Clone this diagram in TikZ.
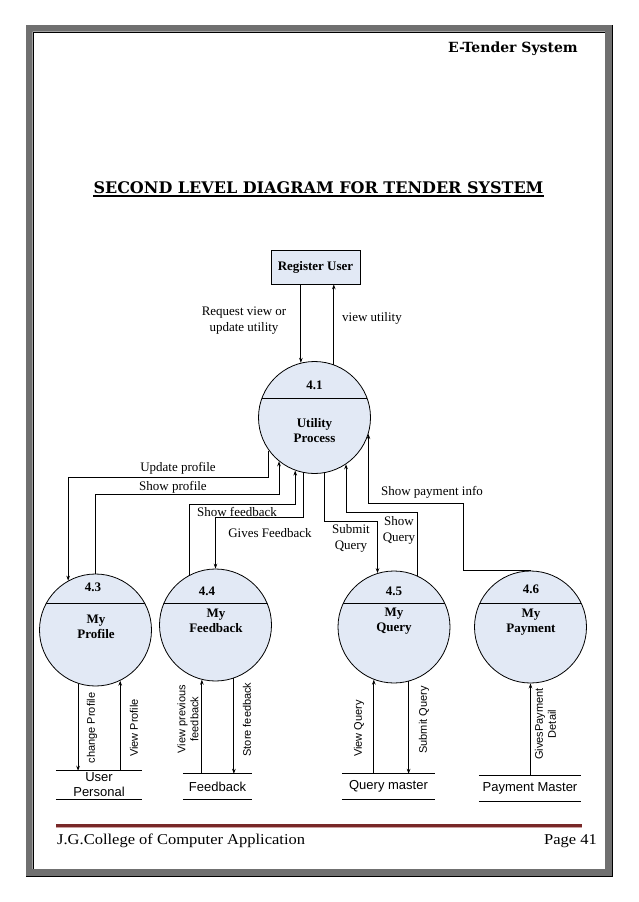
\documentclass[tikz,border=0pt]{standalone}
\usepackage{fontspec}
\setmainfont{Liberation Serif}
\setsansfont{Liberation Sans}
\newfontfamily\bookfont{DejaVu Serif}
\newfontfamily\footfont{Liberation Serif}[FakeStretch=1.1]
\usetikzlibrary{arrows.meta,calc}
\definecolor{procfill}{RGB}{226,233,245}
\definecolor{framegray}{RGB}{112,112,112}
\definecolor{footred}{RGB}{120,40,40}
\definecolor{footpink}{RGB}{205,160,160}
\begin{document}
\begin{tikzpicture}[x=1pt,y=-1pt,
  flow/.style={line width=0.9pt,-{Stealth[length=5pt,width=3.6pt]}},
  plain/.style={line width=0.9pt},
  proc/.style={circle,draw,line width=0.8pt,fill=procfill,minimum size=112pt,inner sep=0pt,
    path picture={\draw[line width=0.8pt] ([yshift=#1]path picture bounding box.west) -- ([yshift=#1]path picture bounding box.east);}},
  regbox/.style={draw,line width=0.8pt,fill=procfill,minimum width=89pt,minimum height=34pt,inner sep=0pt,
    font=\fontsize{13}{15}\selectfont\bfseries},
  txt/.style={font=\fontsize{13}{16}\selectfont,align=center,inner sep=0pt},
  ptxt/.style={font=\fontsize{13}{15}\selectfont\bfseries,align=center,inner sep=0pt},
  slab/.style={font=\sffamily\fontsize{11}{13}\selectfont,rotate=90,align=center,inner sep=0pt},
  store/.style={minimum width=#1,minimum height=25pt,inner sep=0pt,align=center,
    font=\sffamily\fontsize{13}{15}\selectfont}
]
\useasboundingbox (0,0) rectangle (638,902);
% page frame
\fill[framegray,even odd rule] (26,25) rectangle (612,876) (32.5,31.5) rectangle (605,869);
\draw[black,line width=1pt] (33,869) -- (33,32) -- (605,32);
\draw[black,line width=1pt] (26,876) -- (612,876) -- (612,25);
% header
\node[font=\bookfont\bfseries\fontsize{14}{16}\selectfont,anchor=base east,inner sep=0pt] (hdr) at (578,52) {E-Tender System};
\node[font=\bookfont\bfseries\fontsize{16}{18}\selectfont,anchor=base,inner sep=0pt] (title) at (318.5,193) {SECOND LEVEL DIAGRAM FOR TENDER SYSTEM};
\draw[line width=1.2pt] ([yshift=-3pt]title.base west) -- ([yshift=-3pt]title.base east);
% footer
\draw[footred,line width=3pt] (56,825.5) -- (582,825.5);
\draw[footpink,line width=1.2pt] (56,827.8) -- (582,827.8);
\node[font=\footfont\fontsize{15}{17}\selectfont,anchor=base west,inner sep=0pt] (ftl) at (57,844) {J.G.College of Computer Application};
\node[font=\footfont\fontsize{15}{17}\selectfont,anchor=base east,inner sep=0pt] (ftr) at (597,844) {Page 41};

% entity
\node[regbox] (reg) at (315.5,267) {Register User};
% processes
\node[proc=19.5pt] (p41) at (314.5,417.5) {};
\node[ptxt] (n41) at (314.5,385) {4.1};
\node[ptxt] (t41) at (314.5,430.5) {Utility\\Process};
\node[proc=27pt] (p43) at (95.5,630) {};
\node[ptxt] (n43) at (93,587) {4.3};
\node[ptxt] (t43) at (96,626.5) {My\\Profile};
\node[proc=22pt] (p44) at (215.5,625) {};
\node[ptxt] (n44) at (207,591) {4.4};
\node[ptxt] (t44) at (216,620.5) {My\\Feedback};
\node[proc=24pt] (p45) at (394,627) {};
\node[ptxt] (n45) at (394,591) {4.5};
\node[ptxt] (t45) at (394,621.5) {My\\Query};
\node[proc=24pt] (p46) at (530.5,627) {};
\node[ptxt] (n46) at (531,589) {4.6};
\node[ptxt] (t46) at (531,622) {My\\Payment};
% stores
\node[store=86pt,minimum height=28pt] (s1) at (99,785) {User\\Personal};
\node[store=69pt] (s2) at (217.5,786.5) {Feedback};
\node[store=93pt] (s3) at (388.5,786.5) {Query master};
\node[store=102pt] (s4) at (530,788.5) {Payment Master};
\foreach \s in {s1,s2,s3,s4}
  \draw[plain] (\s.north west) -- (\s.north east) (\s.south west) -- (\s.south east);

% levels
\coordinate (hUpd) at (0,477);
\coordinate (hShp) at (0,494);
\coordinate (hShf) at (0,504);
\coordinate (hGvf) at (0,517);
\coordinate (hSbq) at (0,521);
\coordinate (hShq) at (0,512);
\coordinate (hPay) at (0,503);
\coordinate (xPay) at (463,0);

% flows
\draw[flow] (reg.south -| p41.104) -- (p41.104);
\draw[flow] (p41.70) -- (p41.70 |- reg.south);
\draw[flow] (p41.216) -- (p41.216 |- hUpd) -| (p43.119);
\draw[flow] (p43.north) -- (p43.north |- hShp) -| (p41.231);
\draw[flow] (p44.118) -- (p44.118 |- hShf) -| (p41.250);
\draw[flow] (p41.259) -- (p41.259 |- hGvf) -| (p44.north);
\draw[flow] (p41.280) -- (p41.280 |- hSbq) -| (p45.107);
\draw[flow] (p45.65) -- (p45.65 |- hShq) -| (p41.304);
\draw[flow] (p46.north) -| (xPay |- hPay) -| (p41.343);
\draw[flow] (p43.252) -- (p43.252 |- s1.north);
\draw[flow] (p43.296 |- s1.north) -- (p43.296);
\draw[flow] (p44.256 |- s2.north) -- (p44.256);
\draw[flow] (p44.289) -- (p44.289 |- s2.north);
\draw[flow] (p45.249 |- s3.north) -- (p45.249);
\draw[flow] (p45.285) -- (p45.285 |- s3.north);
\draw[flow] (p46.south |- s4.north) -- (p46.south);

% labels
\node[txt] (lReq) at (244,321) {Request view or\\update utility};
\node[txt] (lView) at (372,318) {view utility};
\node[txt] (lUpd) at (178,468) {Update profile};
\node[txt] (lShp) at (173,487) {Show profile};
\node[txt] (lShf) at (237,512) {Show feedback};
\node[txt] (lGvf) at (270,533) {Gives Feedback};
\node[txt] (lSbq) at (351,538) {Submit\\Query};
\node[txt] (lShq) at (399,530) {Show\\Query};
\node[txt] (lPay) at (432,492) {Show payment info};
\node[slab] (lchp) at (92,728) {change Profile};
\node[slab] (lvp) at (134,728) {View Profile};
\node[slab] (lvpf) at (188,719) {View previous\\feedback};
\node[slab] (lsf) at (247,719.5) {Store feedback};
\node[slab] (lvq) at (359,728.5) {View Query};
\node[slab] (lsq) at (424,720) {Submit Query};
\node[slab] (lgpd) at (545.5,724) {GivesPayment\\Detail};
\end{tikzpicture}
\end{document}
